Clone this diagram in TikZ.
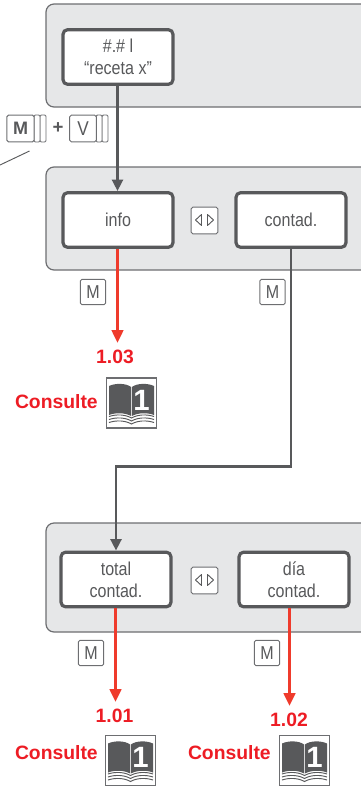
\documentclass[tikz,border=0pt]{standalone}
\usepackage{fontspec}
\setmainfont{Liberation Sans}
\newfontfamily\narrowfam[FakeStretch=0.86]{Liberation Sans}
\usetikzlibrary{arrows.meta,calc}
\definecolor{pg}{HTML}{E6E7E8}
\definecolor{dk}{HTML}{58595B}
\definecolor{md}{HTML}{6D6E71}
\definecolor{rd}{HTML}{EF3B2C}
\definecolor{rt}{HTML}{ED1C24}
\tikzset{
 panel/.style={fill=pg,draw=md,line width=0.9pt,rounded corners=6pt},
 mainbox/.style={draw=dk,fill=white,line width=2.4pt,rounded corners=3.5pt,minimum width=82.5pt,minimum height=41pt,inner sep=0pt,align=center,text=dk,font=\narrowfam\fontsize{14}{16.5}\selectfont},
 keybox/.style={draw=md,fill=white,line width=0.7pt,rounded corners=1.2pt,minimum width=19pt,minimum height=19pt,inner sep=0pt,text=dk,font=\narrowfam\fontsize{14}{14}\selectfont},
 stackbox/.style={draw=md,fill=white,line width=0.7pt,rounded corners=1pt},
 grayline/.style={draw=dk,line width=2.2pt},
 redline/.style={draw=rd,line width=2.2pt},
 grayarrow/.style={grayline,-{Triangle[length=8.5pt,width=8pt]}},
 redarrow/.style={redline,-{Triangle[length=9.5pt,width=8.5pt]}},
 rlabel/.style={text=rt,inner sep=0pt,font=\bfseries\fontsize{14.5}{15}\selectfont},
 bk/.pic={
   \draw[draw=md,fill=white,line width=0.9pt] (0,0) rectangle (50,50);
   \fill[dk] (2.5,8) .. controls (9,5) and (19,5) .. (24.7,9) -- (24.7,38) .. controls (18,34.5) and (9,34.5) .. (2.5,37) -- cycle;
   \fill[dk] (25.3,9) .. controls (31,5) and (41,5) .. (47.5,8) -- (47.5,37) .. controls (41,34.5) and (32,34.5) .. (25.3,38) -- cycle;
   \foreach \d in {0,3,6}{
     \draw[dk,line width=0.7pt] (2.5,38.5+\d) .. controls (10,36+\d) and (19,36.5+\d) .. (25,40+\d) .. controls (31,36.5+\d) and (40,36+\d) .. (47.5,38.5+\d);
   }
   \node[text=white,inner sep=0pt,font=\bfseries\fontsize{22}{22}\selectfont] (-num) at (35,22) {1};
 }
}
\begin{document}
\begin{tikzpicture}[x=0.75pt,y=-0.75pt]
\useasboundingbox (0,0) rectangle (361,790);
\clip (0,0) rectangle (361,790);
% panels
\draw[panel] (46,4) rectangle (400,107);
\draw[panel] (46,167) rectangle (400,270);
\draw[panel] (46,523) rectangle (400,632);
% main boxes
\node[mainbox] (rec) at (118,57) {\#.\# l\\“receta x”};
\node[mainbox] (info) at (118,220) {info};
\node[mainbox] (cont) at (291,220) {contad.};
\node[mainbox] (tot) at (116,579.5) {total\\contad.};
\node[mainbox] (dia) at (294,579.5) {día\\contad.};
% keys
\node[keybox] (k1) at (93,292) {M};
\node[keybox] (k2) at (272.5,292) {M};
\node[keybox] (k3) at (91,653) {M};
\node[keybox] (k4) at (267,653) {M};
% left/right keys
\foreach \n/\cy in {a/220.5,b/580.5}{
 \node[keybox,minimum width=20pt,minimum height=20pt] (lr\n) at (204.5,\cy) {};
 \draw[dk,line width=0.7pt,line join=round] ($(lr\n)+(-3,-6)$) -- ($(lr\n)+(-3,5)$) -- ($(lr\n)+(-9,-0.5)$) -- cycle;
 \draw[dk,line width=0.7pt,line join=round] ($(lr\n)+(3,-6)$) -- ($(lr\n)+(3,5)$) -- ($(lr\n)+(9,-0.5)$) -- cycle;
}
% stacked keys
\draw[stackbox] (40,115) rectangle (46,142);
\draw[stackbox] (34,115) rectangle (40,142);
\node[keybox,minimum width=20.5pt,minimum height=20pt,font=\bfseries\fontsize{13.5}{13.5}\selectfont] (km) at (20.5,128.5) {M};
\draw[stackbox] (102,115) rectangle (108,142);
\draw[stackbox] (96,115) rectangle (102,142);
\node[keybox,minimum width=20pt,minimum height=20pt,font=\narrowfam\fontsize{15}{15}\selectfont] (kv) at (83,128.5) {V};
\node[text=dk,inner sep=0pt,font=\bfseries\fontsize{14}{14}\selectfont] (plus) at (58,128.5) {+};
\coordinate (sa) at (29.5,151);
\coordinate (sb) at (0,165);
\draw[dk,line width=0.7pt] (sa) -- (sb);
% labels
\node[rlabel] (n103) at (115,357) {1.03};
\node[rlabel] (n101) at (114.5,716) {1.01};
\node[rlabel] (n102) at (289,720) {1.02};
\node[rlabel,anchor=east] (c1) at (98,402) {Consulte};
\node[rlabel,anchor=east] (c2) at (98,753) {Consulte};
\node[rlabel,anchor=east] (c3) at (271,753) {Consulte};
% books
\pic (b1) at (106.5,378) {bk};
\pic (b2) at (105.5,735.5) {bk};
\pic (b3) at (279.5,735.5) {bk};
% connectors
\draw[grayarrow] (rec.south -| 117.5,0) -- (info.north -| 117.5,0);
\draw[redarrow] (info.south -| 117.5,0) -- ($(n103.north -| 117.5,0)+(0,-7)$);
\coordinate (bend) at ($(cont.south)+(0,218)$);
\draw[grayarrow] (cont.south) -- (bend) -- (bend -| tot.north) -- (tot.north);
\draw[redarrow] (tot.south -| 115.5,0) -- ($(n101.north -| 115.5,0)+(0,-7)$);
\draw[redarrow] (dia.south -| 289.5,0) -- ($(n102.north -| 289.5,0)+(0,-7)$);
\end{tikzpicture}
\end{document}
